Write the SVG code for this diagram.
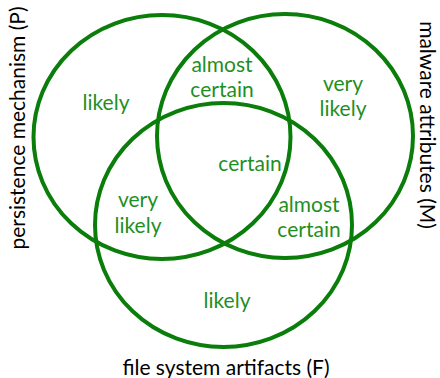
<svg xmlns="http://www.w3.org/2000/svg" width="440" height="378" viewBox="0 0 440 378">
<style>
.c{fill:none;stroke:#0a7d0a;stroke-width:4}
.g{fill:#1f8f1f;font-family:Lato,"Liberation Sans",Arial,sans-serif;font-size:21px;text-anchor:middle}
.k{fill:#000;font-family:Lato,"Liberation Sans",Arial,sans-serif;font-size:21px;text-anchor:middle}
</style>
<rect width="440" height="378" fill="#fff"/>
<g id="sets">
<g id="P"><ellipse class="c" cx="162" cy="137" rx="128.5" ry="122"/></g>
<g id="M"><ellipse class="c" cx="285" cy="136" rx="128" ry="122"/></g>
<g id="F"><ellipse class="c" cx="223.5" cy="225" rx="128.5" ry="122"/></g>
</g>
<g id="regions">
<g id="P-only"><text class="g" x="106" y="110">likely</text></g>
<g id="PM"><text class="g" x="222" y="72">almost</text><text class="g" x="222" y="97">certain</text></g>
<g id="M-only"><text class="g" x="343" y="91">very</text><text class="g" x="343" y="116">likely</text></g>
<g id="PMF"><text class="g" x="250" y="171">certain</text></g>
<g id="PF"><text class="g" x="138" y="207">very</text><text class="g" x="138" y="233">likely</text></g>
<g id="MF"><text class="g" x="309" y="212">almost</text><text class="g" x="309" y="237">certain</text></g>
<g id="F-only"><text class="g" x="227" y="308">likely</text></g>
</g>
<g id="labels">
<text class="k" transform="translate(25,128) rotate(-90)">persistence mechanism (P)</text>
<text class="k" transform="translate(420,125) rotate(90)">malware attributes (M)</text>
<text class="k" x="226" y="375">file system artifacts (F)</text>
</g>
</svg>
